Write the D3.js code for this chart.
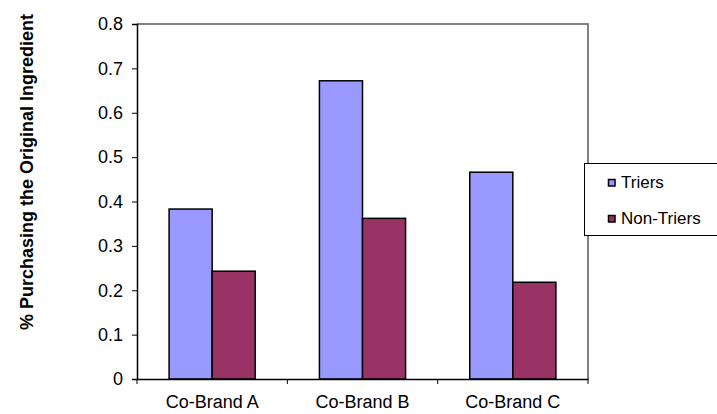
<!DOCTYPE html>
<html><head><meta charset="utf-8">
<script src="https://cdn.jsdelivr.net/npm/d3@7"></script>
<style>body{margin:0;background:#fff}svg{display:block}text{font-family:"Liberation Sans",Arial,sans-serif}</style>
</head><body><svg id="c" width="717" height="414"></svg>
<script>
const categories = ["Co-Brand A", "Co-Brand B", "Co-Brand C"];
const seriesNames = ["Triers", "Non-Triers"];
const triers = [0.383, 0.672, 0.466];
const nonTriers = [0.243, 0.362, 0.218];
const yTicks = [0, 0.1, 0.2, 0.3, 0.4, 0.5, 0.6, 0.7, 0.8];
const colors = ["#9999ff", "#993366"];

const svg = d3.select("#c");
const m = {l: 137, r: 588, t: 24, b: 379};
const x = d3.scaleBand().domain(categories).range([m.l, m.r]).paddingInner(0).paddingOuter(0);
const xs = d3.scaleBand().domain(seriesNames).range([0, x.bandwidth()]).paddingInner(0).paddingOuter(0.745);
const y = d3.scaleLinear().domain([0, 0.8]).range([m.b, m.t]);
const FONT = "Liberation Sans, Arial, sans-serif";

// plot frame (top/right gray)
svg.append("path").attr("d", `M${m.l},${m.t}H${m.r}V${m.b}`).attr("fill","none").attr("stroke","#808080").attr("stroke-width",2);

const data = categories.map((c,i)=>({c, v:[triers[i], nonTriers[i]]}));
const g = svg.append("g");
data.forEach(d=>{
  d.v.forEach((v,j)=>{
    g.append("rect").attr("x", x(d.c)+xs(seriesNames[j])).attr("y", y(v))
      .attr("width", xs.bandwidth()).attr("height", y(0)-y(v))
      .attr("fill", colors[j]).attr("stroke","#000").attr("stroke-width",1.5);
  });
});

// y axis
const ya = svg.append("g").attr("transform",`translate(${m.l},0)`)
  .call(d3.axisLeft(y).tickValues(yTicks).tickSize(5).tickPadding(9).tickFormat(d=>d===0?"0":d3.format(".1f")(d)));
ya.select(".domain").attr("stroke","#000").attr("stroke-width",1.5);
ya.selectAll(".tick line").attr("stroke","#000");
ya.selectAll("text").attr("font-size",18).attr("fill","#000").style("font-family",FONT);

// x axis
const xa = svg.append("g").attr("transform",`translate(0,${m.b})`)
  .call(d3.axisBottom(x).tickSize(0).tickPadding(16));
xa.select(".domain").attr("stroke","#000").attr("stroke-width",1.5);
xa.selectAll("text").attr("font-size",18).attr("fill","#000").style("font-family",FONT);
const bounds = [m.l, ...categories.map(c=>x(c)+x.bandwidth())];
svg.append("g").selectAll("line").data(bounds).join("line")
  .attr("x1",d=>d).attr("x2",d=>d).attr("y1",m.b).attr("y2",m.b+5).attr("stroke","#000");

// y title
svg.append("text").attr("transform","translate(33,172) rotate(-90)").attr("text-anchor","middle")
  .attr("font-size",18).attr("font-weight","bold").attr("fill","#000").text("% Purchasing the Original Ingredient");

// legend
const lg = svg.append("g");
lg.append("rect").attr("x",584.5).attr("y",163.5).attr("width",140).attr("height",72).attr("fill","#fff").attr("stroke","#000");
seriesNames.forEach((s,i)=>{
  const yy = 179.5 + i*36;
  lg.append("rect").attr("x",608.5).attr("y",yy).attr("width",6.5).attr("height",6.5).attr("fill",colors[i]).attr("stroke","#000").attr("stroke-width",1.5);
  lg.append("text").attr("x",621).attr("y",yy+8.8).attr("font-size",17).attr("fill","#000").text(s);
});
</script></body></html>
